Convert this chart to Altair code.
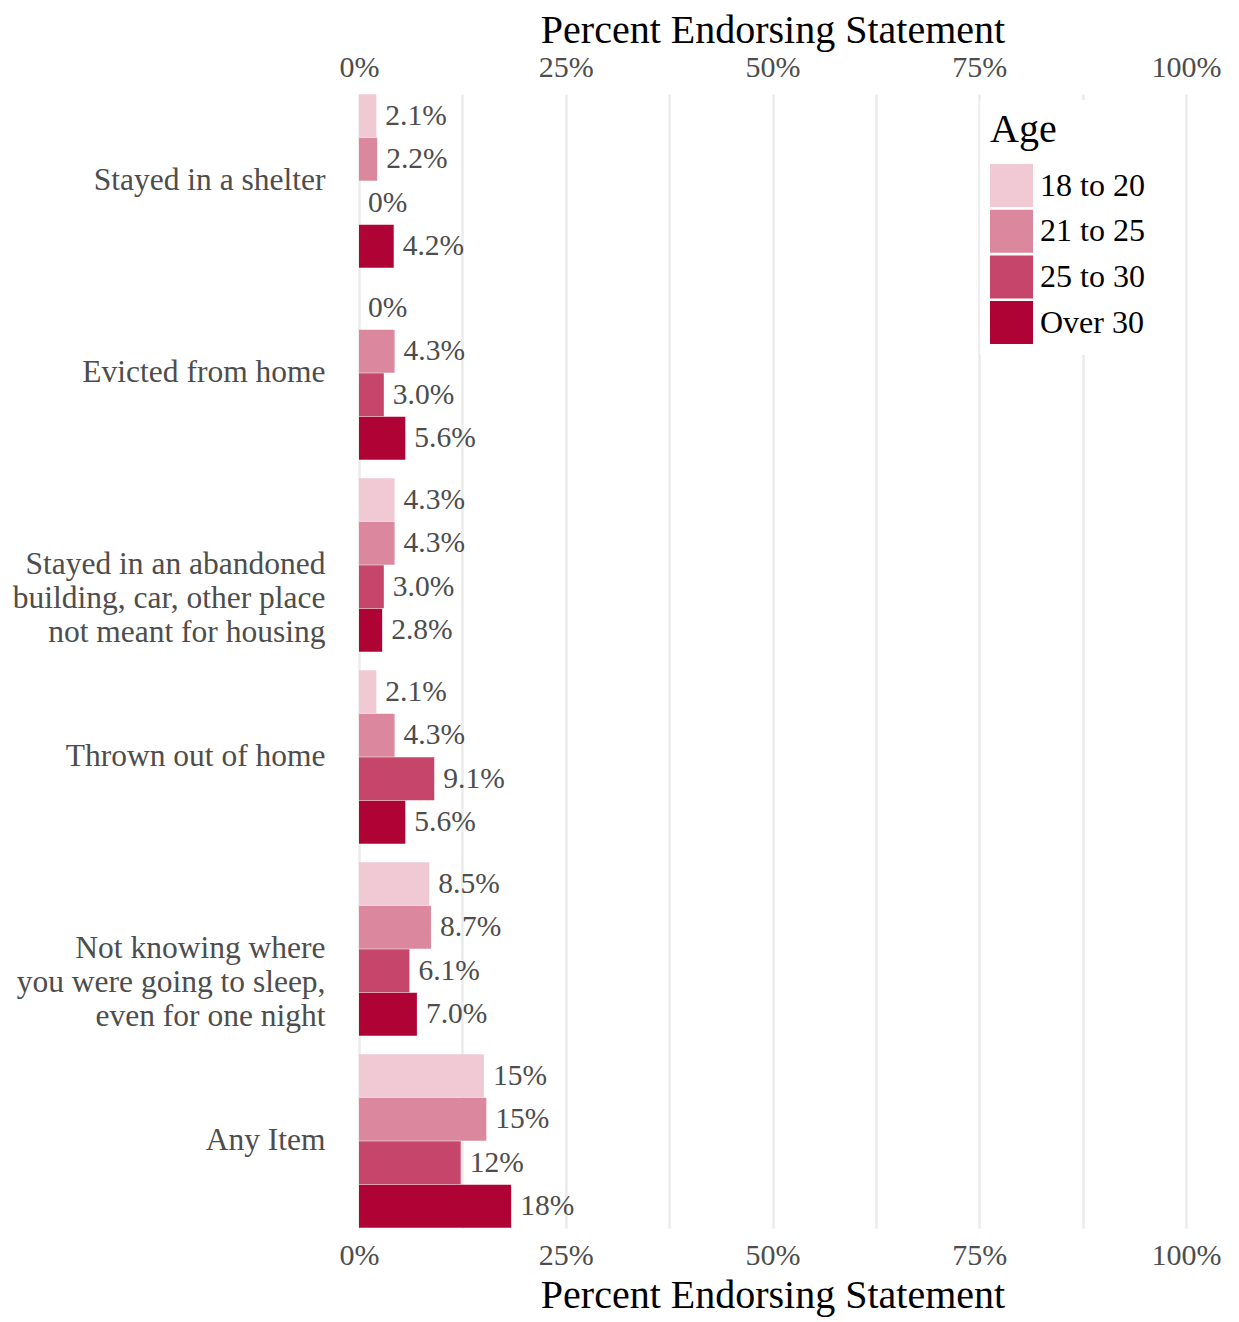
import altair as alt
import pandas as pd

items = [
    "Stayed in a shelter",
    "Evicted from home",
    "Stayed in an abandoned|building, car, other place|not meant for housing",
    "Thrown out of home",
    "Not knowing where|you were going to sleep,|even for one night",
    "Any Item",
]
ages = ["18 to 20", "21 to 25", "25 to 30", "Over 30"]
colors = ["#f0c9d5", "#db879d", "#c5466a", "#b00335"]

v_18_20 = [2.1, 0.0, 4.3, 2.1, 8.5, 15.1]
v_21_25 = [2.2, 4.3, 4.3, 4.3, 8.7, 15.4]
v_25_30 = [0.0, 3.0, 3.0, 9.1, 6.1, 12.3]
v_over30 = [4.2, 5.6, 2.8, 5.6, 7.0, 18.4]

series = [v_18_20, v_21_25, v_25_30, v_over30]


def fmt(v):
    if v == 0:
        return "0%"
    if v < 10:
        return f"{v:.1f}%"
    return f"{v:.0f}%"


rows = []
for age, vals in zip(ages, series):
    for item, v in zip(items, vals):
        rows.append({"item": item, "age": age, "value": v, "label": fmt(v)})
df = pd.DataFrame(rows)

FONT = "Liberation Serif"
GRAY = "#4d4d4d"
grid_vals = [0, 12.5, 25, 37.5, 50, 62.5, 75, 87.5, 100]
label_expr = "datum.value % 25 == 0 ? datum.value + '%' : ''"

yenc = alt.Y(
    "item:N",
    sort=items,
    scale=alt.Scale(paddingInner=0.094, paddingOuter=0.0),
    axis=alt.Axis(
        title=None,
        domain=False,
        ticks=False,
        labelPadding=34,
        labelFont=FONT,
        labelFontSize=31.5,
        labelColor=GRAY,
        labelLineHeight=34,
        labelLimit=400,
        labelExpr="split(datum.label, '|')",
    ),
)
yoff = alt.YOffset("age:N", sort=ages)

xscale = alt.Scale(domain=[0, 100], nice=False)

bars = alt.Chart(df).mark_bar(size=43).encode(
    x=alt.X(
        "value:Q",
        scale=xscale,
        axis=alt.Axis(
            orient="bottom",
            title="Percent Endorsing Statement",
            values=grid_vals,
            labelExpr=label_expr,
            labelFlush=False,
            labelOverlap=False,
            grid=True,
            gridColor="#ebebeb",
            gridWidth=2.5,
            domain=False,
            ticks=False,
            labelPadding=12,
            labelFont=FONT,
            labelFontSize=30,
            labelColor=GRAY,
            titleFont=FONT,
            titleFontSize=40,
            titleFontWeight="normal",
            titleColor="black",
            titlePadding=5,
        ),
    ),
    y=yenc,
    yOffset=yoff,
    color=alt.Color(
        "age:N",
        sort=ages,
        scale=alt.Scale(domain=ages, range=colors),
        legend=alt.Legend(
            title="Age",
            orient="none",
            legendX=621,
            legendY=6,
            fillColor="white",
            padding=10,
            symbolType="square",
            symbolSize=1849,
            symbolStrokeWidth=0,
            symbolOpacity=1,
            rowPadding=2.7,
            labelOffset=7,
            labelFont=FONT,
            labelFontSize=32,
            labelColor="black",
            titleFont=FONT,
            titleFontSize=40,
            titleFontWeight="normal",
            titleColor="black",
            titlePadding=14,
        ),
    ),
)

text = alt.Chart(df).mark_text(
    align="left", baseline="middle", dx=9, font=FONT, fontSize=29.5, color=GRAY
).encode(
    x=alt.X(
        "value:Q",
        scale=xscale,
        axis=alt.Axis(
            orient="top",
            title="Percent Endorsing Statement",
            values=grid_vals,
            labelExpr=label_expr,
            labelFlush=False,
            labelOverlap=False,
            grid=False,
            domain=False,
            ticks=False,
            labelPadding=12,
            labelFont=FONT,
            labelFontSize=30,
            labelColor=GRAY,
            titleFont=FONT,
            titleFontSize=40,
            titleFontWeight="normal",
            titleColor="black",
            titlePadding=2,
        ),
    ),
    y=alt.Y("item:N", sort=items),
    yOffset=yoff,
    text="label:N",
)

chart = (
    alt.layer(bars, text)
    .properties(width=827, height=1134, padding={"left": 4, "top": 2, "right": 5, "bottom": 5})
    .configure_view(stroke=None)
)

chart.save("out.html", embed_options={"renderer": "svg", "actions": False})
